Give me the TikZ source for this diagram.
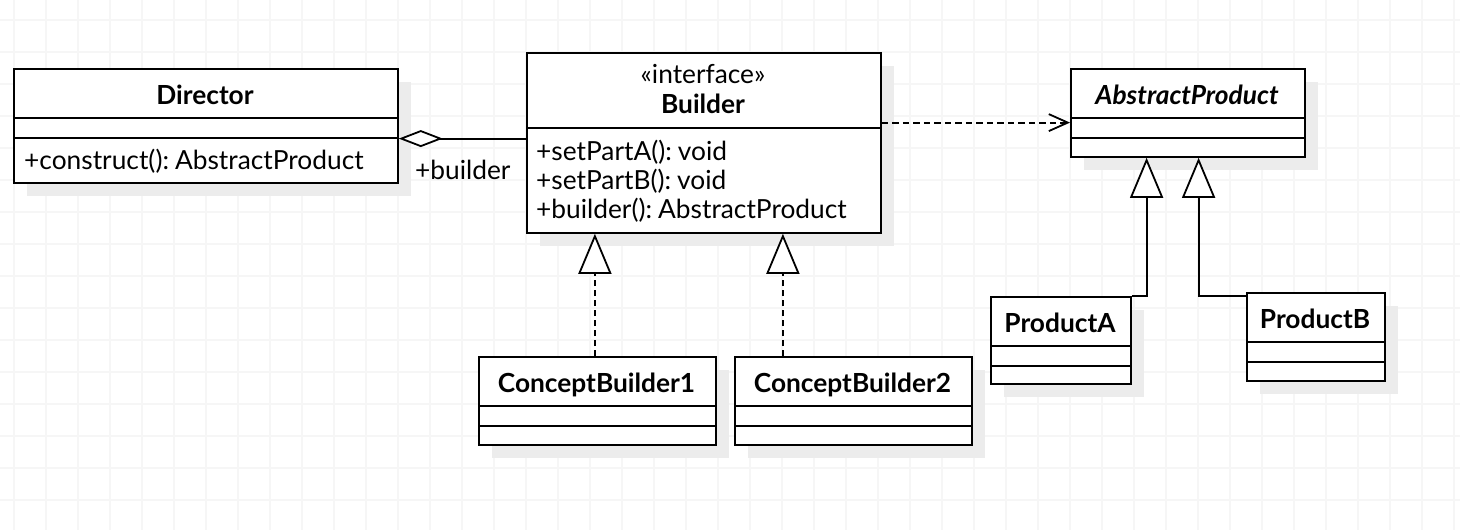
\documentclass[tikz,border=0pt]{standalone}
\usepackage{fontspec}
\setmainfont{Lato}
\usetikzlibrary{arrows.meta,shadows,calc}
\definecolor{gridc}{RGB}{246,246,246}
\definecolor{shadowc}{RGB}{236,236,236}
\newcommand{\csp}{\hspace{6pt}}
\begin{document}
\begin{tikzpicture}[x=1pt,y=-1pt,
  every node/.style={font=\fontsize{26.3}{30}\selectfont},
  cls/.style={draw, line width=1.8pt, fill=white, inner sep=0pt, anchor=north west,
    general shadow={draw=none, fill=shadowc, shadow xshift=13pt, shadow yshift=-13pt}},
  sepline/.style={line width=1.8pt},
  nm/.style={anchor=base, inner sep=0pt, font=\fontsize{26.3}{30}\selectfont\bfseries},
  txt/.style={anchor=base, inner sep=0pt},
  mem/.style={anchor=base west, inner sep=0pt},
  conn/.style={line width=1.8pt},
  gen/.style={conn, -{Triangle[length=40pt,width=33pt,fill=white]}},
  real/.style={gen, dash pattern=on 6pt off 4pt},
  dep/.style={conn, dash pattern=on 6.5pt off 4pt, -{Straight Barb[length=19pt,width=17pt]}},
  agg/.style={conn, {Diamond[length=44pt,width=17pt,fill=white]}-}
]
\useasboundingbox (0,0) rectangle (1460,530);
\fill[white] (0,0) rectangle (1460,530);
% grid
\foreach \gx in {14,46,...,1460} \draw[gridc, line width=1.5pt] (\gx,0) -- (\gx,530);
\foreach \gy in {20,52,...,530} \draw[gridc, line width=1.5pt] (0,\gy) -- (1460,\gy);

% Director
\node[cls, minimum width=384pt, minimum height=114pt] (director) at (13,68) {};
\draw[sepline] ([yshift=-50pt]director.north west) -- ([yshift=-50pt]director.north east);
\draw[sepline] ([yshift=-70pt]director.north west) -- ([yshift=-70pt]director.north east);
\node[nm] (dirname) at (205,104) {Director};
\node[mem] (dirop) at (24,169) {+construct():\csp AbstractProduct};

% Builder
\node[cls, minimum width=354pt, minimum height=180pt] (builder) at (526,52) {};
\draw[sepline] ([yshift=-76pt]builder.north west) -- ([yshift=-76pt]builder.north east);
\node[txt] (stereo) at (703,83) {«interface»};
\node[nm] (bname) at (703,113) {Builder};
\node[mem] (bm1) at (536,160) {+setPartA():\csp void};
\node[mem] (bm2) at (536,189) {+setPartB():\csp void};
\node[mem] (bm3) at (536,218) {+builder():\csp AbstractProduct};

% AbstractProduct
\node[cls, minimum width=234pt, minimum height=88pt] (ap) at (1070,68) {};
\draw[sepline] ([yshift=-50pt]ap.north west) -- ([yshift=-50pt]ap.north east);
\draw[sepline] ([yshift=-70pt]ap.north west) -- ([yshift=-70pt]ap.north east);
\node[nm, font=\fontsize{26.3}{30}\selectfont\bfseries\itshape] (apname) at (1187,104) {AbstractProduct};

% ProductA
\node[cls, minimum width=140pt, minimum height=87pt] (pa) at (990,296) {};
\draw[sepline] ([yshift=-50pt]pa.north west) -- ([yshift=-50pt]pa.north east);
\draw[sepline] ([yshift=-70pt]pa.north west) -- ([yshift=-70pt]pa.north east);
\node[nm] (paname) at (1060,332) {ProductA};

% ProductB
\node[cls, minimum width=138pt, minimum height=88pt] (pb) at (1246,292) {};
\draw[sepline] ([yshift=-50pt]pb.north west) -- ([yshift=-50pt]pb.north east);
\draw[sepline] ([yshift=-70pt]pb.north west) -- ([yshift=-70pt]pb.north east);
\node[nm] (pbname) at (1315,328) {ProductB};

% ConceptBuilder1
\node[cls, minimum width=237pt, minimum height=88pt] (cb1) at (478,356) {};
\draw[sepline] ([yshift=-50pt]cb1.north west) -- ([yshift=-50pt]cb1.north east);
\draw[sepline] ([yshift=-70pt]cb1.north west) -- ([yshift=-70pt]cb1.north east);
\node[nm] (cb1name) at (596.5,392) {ConceptBuilder1};

% ConceptBuilder2
\node[cls, minimum width=237pt, minimum height=88pt] (cb2) at (734,356) {};
\draw[sepline] ([yshift=-50pt]cb2.north west) -- ([yshift=-50pt]cb2.north east);
\draw[sepline] ([yshift=-70pt]cb2.north west) -- ([yshift=-70pt]cb2.north east);
\node[nm] (cb2name) at (852.5,392) {ConceptBuilder2};

% connectors
\path ([yshift=-12.7pt]director.east) coordinate (aggs);
\draw[agg] (aggs) -- (aggs -| builder.west);
\node[mem] (rolelbl) at (415,179) {+builder};

\path ([yshift=20.3pt]builder.east) coordinate (deps);
\draw[dep] (deps) -- (deps -| ap.west);

\path ([xshift=-2.5pt]cb1.north) coordinate (r1);
\draw[real] (r1) -- (r1 |- builder.south);
\path ([xshift=-70.5pt]cb2.north) coordinate (r2);
\draw[real] (r2) -- (r2 |- builder.south);

\path ([xshift=-41.3pt]ap.south) coordinate (ga);
\draw[gen] (pa.north east) -| (ga);
\path ([yshift=-4.3pt]pb.north west) coordinate (gb);
\path ([xshift=10.7pt]ap.south) coordinate (gbt);
\draw[gen] (gb) -| (gbt);
\end{tikzpicture}
\end{document}
